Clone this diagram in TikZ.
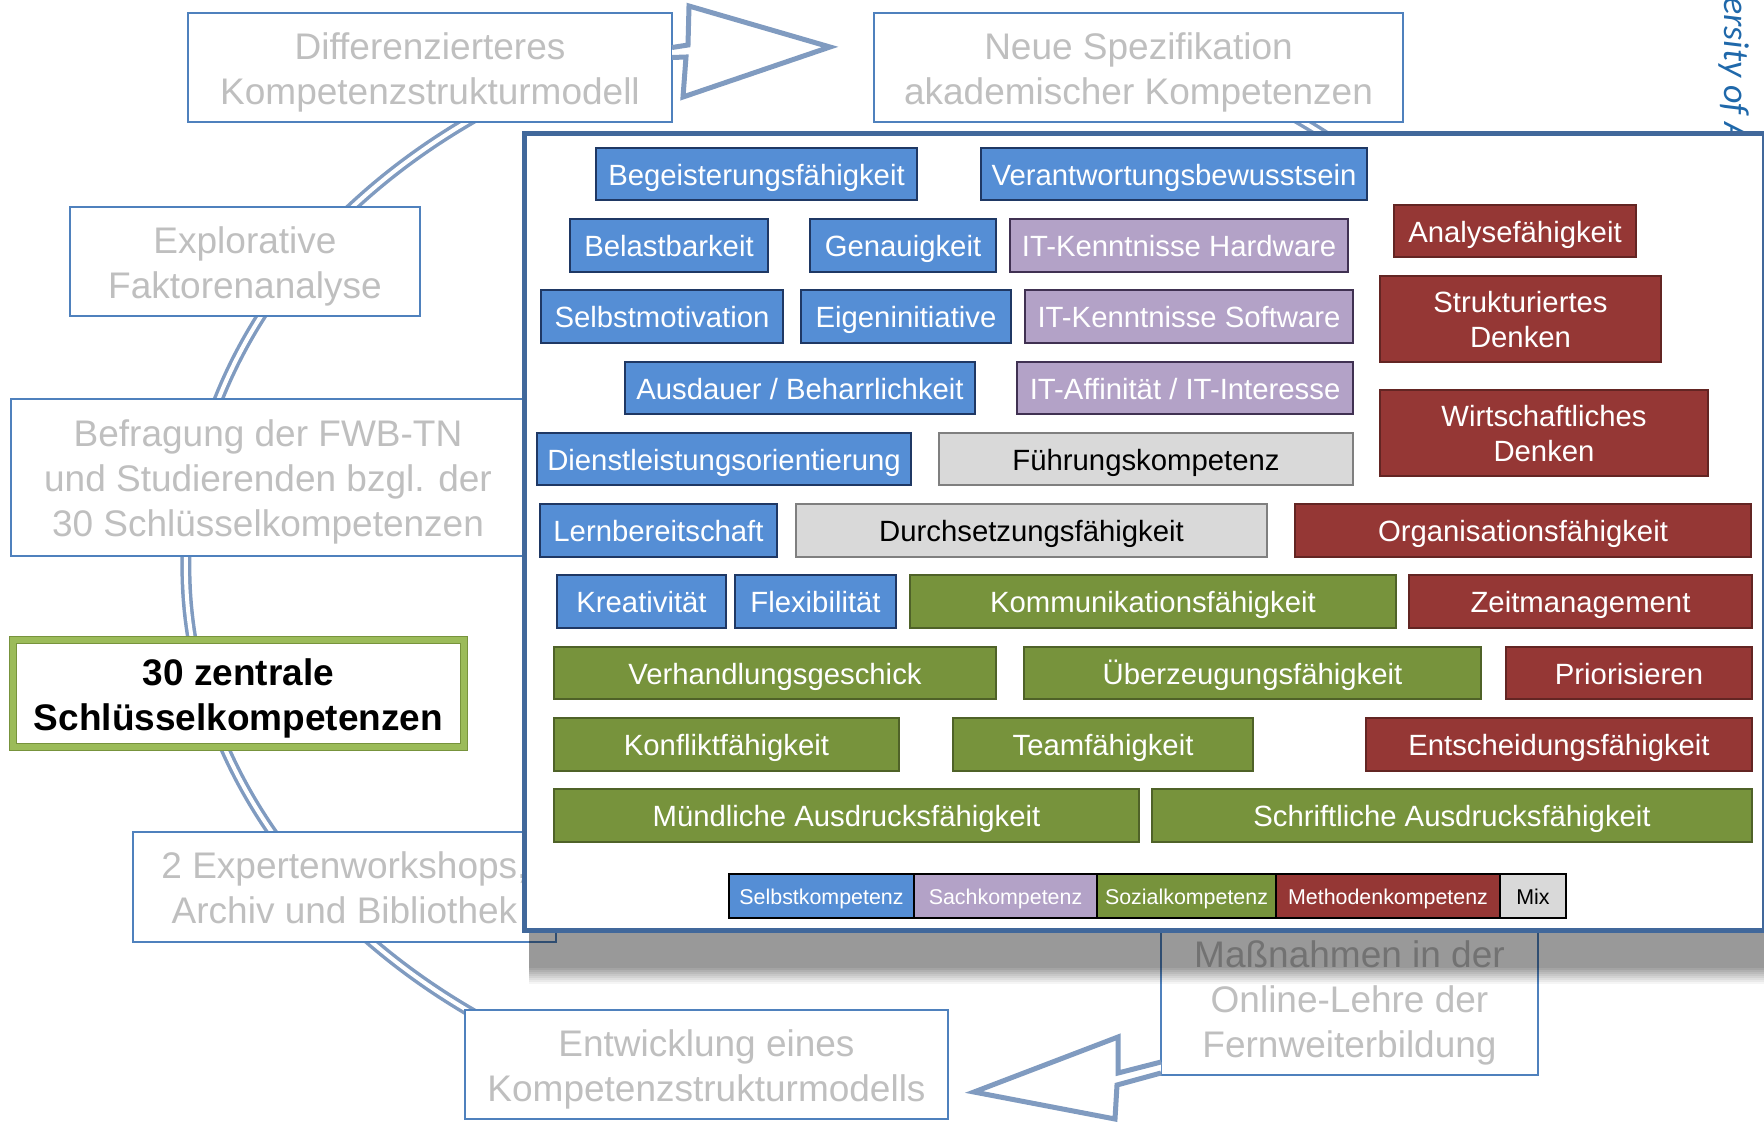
\documentclass[tikz,border=0pt]{standalone}
\usepackage{fontspec}
\setmainfont{Liberation Sans}
\newfontfamily\unifont{Carlito}
\usetikzlibrary{positioning}
\definecolor{ringblue}{RGB}{128,155,192}
\definecolor{frameblue}{RGB}{79,129,189}
\definecolor{panelblue}{RGB}{65,104,155}
\definecolor{greytext}{RGB}{191,191,191}
\definecolor{unitext}{RGB}{31,104,170}
\definecolor{selbst}{RGB}{85,142,213}
\definecolor{selbstdark}{RGB}{31,56,100}
\definecolor{sach}{RGB}{179,162,199}
\definecolor{sachdark}{RGB}{64,49,82}
\definecolor{sozial}{RGB}{119,147,60}
\definecolor{sozialdark}{RGB}{79,98,40}
\definecolor{methode}{RGB}{149,55,53}
\definecolor{methodedark}{RGB}{99,37,35}
\definecolor{mixgrey}{RGB}{217,217,217}
\definecolor{mixdark}{RGB}{127,127,127}
\definecolor{zgreen}{RGB}{155,187,89}
% struts so that the lines sit as low as in the slide
\newcommand{\boxlift}{\rule{0pt}{1em}}
\newcommand{\boxsink}{\rule[-0.22em]{0pt}{0pt}}

\begin{document}
\begin{tikzpicture}[x=1pt,y=-1pt]
    \tikzset{%
      strut/.style={execute at begin node=\boxlift,
        execute at end node=\boxsink},
      phase/.style={draw=frameblue, line width=2pt, fill=white, inner sep=0pt,
        outer sep=0pt, text=greytext, align=center, strut,
        font=\fontsize{37}{45}\selectfont},
      keybox/.style={draw=sozial, double=zgreen, double distance=6pt,
        line width=1pt, fill=white, inner sep=0pt, outer sep=0pt,
        align=center, strut, font=\fontsize{37}{45}\selectfont\bfseries},
      ring/.style={draw=ringblue, double=white, double distance=4pt,
        line width=3.5pt},
      blockarrow/.style={draw=ringblue, line width=5pt, fill=white,
        line join=miter},
      comp/.style={line width=2.5pt, inner sep=0pt, outer sep=0pt,
        text=white, align=center, strut, font=\fontsize{29.3}{35}\selectfont},
      selbstk/.style={comp, fill=selbst, draw=selbstdark},
      sachk/.style={comp, fill=sach, draw=sachdark},
      sozialk/.style={comp, fill=sozial, draw=sozialdark},
      methk/.style={comp, fill=methode, draw=methodedark},
      mixk/.style={comp, fill=mixgrey, draw=mixdark, text=black},
      wh/.style 2 args={minimum width=#1pt, minimum height=#2pt},
      lg/.style={draw=black, line width=2pt, minimum height=44pt,
        inner sep=0pt, outer sep=0pt, text=white, strut,
        font=\fontsize{21.4}{25}\selectfont},
    }
    \useasboundingbox (0,0) rectangle (1764,1122);

    % the cycle behind the boxes
    \coordinate (ringc) at (885,566);
    \draw[ring] (ringc) ++(240:699 and 554)
      arc[start angle=240, end angle=120, x radius=699, y radius=554];
    \draw[ring] (ringc) ++(300:699 and 554)
      arc[start angle=300, end angle=330, x radius=699, y radius=554];

    % phases of the cycle
    \node[phase, wh={484}{109}] (diff) at (430,67.5)
      {\boxlift Differenzierteres\\Kompetenzstrukturmodell};
    \node[phase, wh={529}{109}] (neue) at (1138.5,67.5)
      {\boxlift Neue Spezifikation\\akademischer Kompetenzen};
    \node[phase, wh={350}{109}] (expl) at (245,261.5)
      {\boxlift Explorative\\Faktorenanalyse};
    \node[phase, wh={514}{157}] (befr) at (268,477.5)
      {\boxlift Befragung der FWB-TN\\und Studierenden bzgl. der\\30 Schlüsselkompetenzen};
    \node[keybox, wh={451}{107}] (zent) at (238.5,693.5)
      {\boxlift 30 zentrale\\Schlüsselkompetenzen};
    \node[phase, wh={423}{110}] (expw) at (344.5,887)
      {\boxlift 2 Expertenworkshops,\\Archiv und Bibliothek};
    \node[phase, wh={483}{109}] (entw) at (706.5,1064.5)
      {\boxlift Entwicklung eines\\Kompetenzstrukturmodells};
    \node[phase, wh={377}{154}] (mass) at (1349.5,998)
      {\boxlift Maßnahmen in der\\Online-Lehre der\\Fernweiterbildung};

    % block arrows
    \draw[blockarrow] ([yshift=20pt]diff.east) -- (688,45) -- (689,6)
      -- (830,47) -- (683,97) -- (686,57) -- ([yshift=10pt]diff.east);
    \draw[blockarrow] ([yshift=13pt]mass.south west) -- (1118,1073)
      -- (1118,1037) -- (974,1092) -- (1115,1119) -- (1117,1085)
      -- ([yshift=2pt]mass.south west);

    \node[text=unitext, rotate=-90, anchor=base west, inner sep=0pt]
      (uni) at (1724,-3) {\unifont\itshape\fontsize{36}{40}\selectfont ersity of A};

    % shadow of the panel
    \fill[black, opacity=0.4] (529,931) rectangle (1764,968);
    \foreach \i [evaluate=\i as \op using 0.4-0.045*\i] in {1,...,8}
      \fill[black, opacity=\op] (529,966+2*\i) rectangle (1764,968+2*\i);

    \node[draw=panelblue, line width=5pt, fill=white, inner sep=0pt,
      outer sep=0pt, wh={1240}{797}] (panel) at (1144,531.5) {};

    % the 30 competences
    \node[selbstk, wh={321}{52}] (beg) at (756.5,174) {Begeisterungsfähigkeit};
    \node[selbstk, wh={386}{52}] (ver) at (1174,174) {Verantwortungsbewusstsein};
    \node[selbstk, wh={198}{53}] (bel) at (669,245.5) {Belastbarkeit};
    \node[selbstk, wh={186}{53}] (gen) at (903,245.5) {Genauigkeit};
    \node[sachk, wh={338}{53}] (ithw) at (1179,245.5) {IT-Kenntnisse Hardware};
    \node[methk, wh={242}{52}] (ana) at (1515,231) {Analysefähigkeit};
    \node[selbstk, wh={242}{53}] (smot) at (662,316.5) {Selbstmotivation};
    \node[selbstk, wh={210}{53}] (eig) at (906,316.5) {Eigeninitiative};
    \node[sachk, wh={328}{53}] (itsw) at (1189,316.5) {IT-Kenntnisse Software};
    \node[methk, wh={281}{86}] (struk) at (1520.5,319) {\boxlift Strukturiertes\\Denken};
    \node[selbstk, wh={350}{52}] (aus) at (800,388) {Ausdauer / Beharrlichkeit};
    \node[sachk, wh={336}{52}] (itaf) at (1185,388) {IT-Affinität / IT-Interesse};
    \node[methk, wh={328}{86}] (wirt) at (1544,433) {\boxlift Wirtschaftliches\\Denken};
    \node[selbstk, wh={374}{52}] (dienst) at (724,459) {Dienstleistungsorientierung};
    \node[mixk, wh={414}{52}] (fuehr) at (1146,459) {Führungskompetenz};
    \node[selbstk, wh={237}{53}] (lern) at (658.5,530.5) {Lernbereitschaft};
    \node[mixk, wh={471}{53}] (durch) at (1031.5,530.5) {Durchsetzungsfähigkeit};
    \node[methk, wh={456}{53}] (orga) at (1523,530.5) {Organisationsfähigkeit};
    \node[selbstk, wh={169}{53}] (krea) at (641.5,601.5) {Kreativität};
    \node[selbstk, wh={161}{53}] (flex) at (815.5,601.5) {Flexibilität};
    \node[sozialk, wh={486}{53}] (komm) at (1153,601.5) {Kommunikationsfähigkeit};
    \node[methk, wh={343}{53}] (zeit) at (1580.5,601.5) {Zeitmanagement};
    \node[sozialk, wh={442}{52}] (verh) at (775,673) {Verhandlungsgeschick};
    \node[sozialk, wh={457}{52}] (uebz) at (1252.5,673) {Überzeugungsfähigkeit};
    \node[methk, wh={246}{52}] (prio) at (1629,673) {Priorisieren};
    \node[sozialk, wh={345}{53}] (konf) at (726.5,744.5) {Konfliktfähigkeit};
    \node[sozialk, wh={300}{53}] (team) at (1103,744.5) {Teamfähigkeit};
    \node[methk, wh={386}{53}] (ents) at (1559,744.5) {Entscheidungsfähigkeit};
    \node[sozialk, wh={585}{53}] (muend) at (846.5,815.5) {Mündliche Ausdrucksfähigkeit};
    \node[sozialk, wh={600}{53}] (schr) at (1452,815.5) {Schriftliche Ausdrucksfähigkeit};

    % legend
    \node[lg, fill=selbst, minimum width=185pt] (lselbst) at (821.5,896) {Selbstkompetenz};
    \node[lg, fill=sach, minimum width=183pt, right=0pt of lselbst] (lsach) {Sachkompetenz};
    \node[lg, fill=sozial, minimum width=179pt, right=0pt of lsach] (lsozial) {Sozialkompetenz};
    \node[lg, fill=methode, minimum width=224pt, right=0pt of lsozial] (lmeth) {Methodenkompetenz};
    \node[lg, fill=mixgrey, text=black, minimum width=66pt, right=0pt of lmeth] (lmix) {Mix};
\end{tikzpicture}
\end{document}
